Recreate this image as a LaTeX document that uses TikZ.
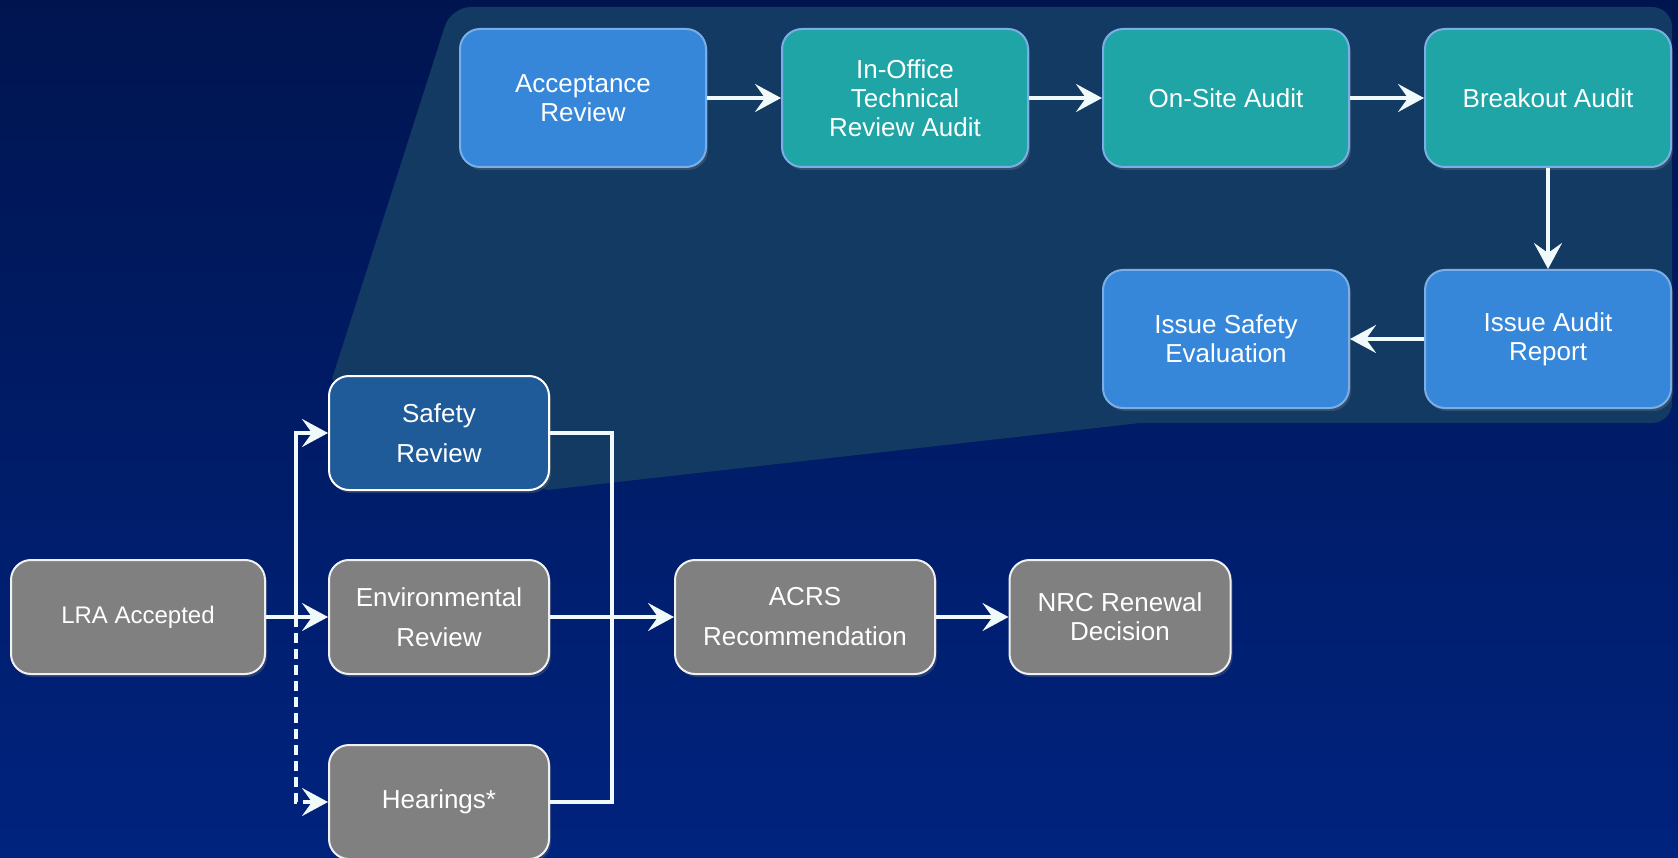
\documentclass[tikz,border=0pt]{standalone}
\usepackage{fontspec}
\setmainfont{Liberation Sans}
\usetikzlibrary{arrows.meta,shadows}
\definecolor{bgtop}{HTML}{001550}
\definecolor{bgbottom}{HTML}{00237E}
\definecolor{panelcol}{HTML}{133A63}
\definecolor{stepblue}{HTML}{3687D9}
\definecolor{stepteal}{HTML}{1FA5A5}
\definecolor{stepedge}{HTML}{7AAEE6}
\definecolor{safetyblue}{HTML}{1F5A99}
\definecolor{stepgray}{HTML}{808080}
\definecolor{linkcol}{HTML}{F0FAFA}
\begin{document}
\begin{tikzpicture}
	[x=1pt,y=-1pt,
		box/.style={rectangle,rounded corners=20pt,line width=2pt,align=center,text=white,
			drop shadow={shadow xshift=2pt,shadow yshift=-3pt,opacity=0.3}},
		topbox/.style={box,draw=stepedge,minimum width=246pt,minimum height=138pt,
			font=\fontsize{26}{29}\selectfont},
		lowbox/.style={box,draw=white!94!black,fill=stepgray,minimum height=114pt,
			font=\fontsize{26}{40}\selectfont},
		link/.style={linkcol,line width=3.5pt},
		flow/.style={link,-{Stealth[length=26pt,width=28pt,inset=10pt]}}]
	\useasboundingbox (0,0) rectangle (1678,858);
	\fill[top color=bgtop,bottom color=bgbottom] (0,0) rectangle (1678,858);
	\fill[panelcol] (547,490) -- (332,379) [rounded corners=20pt] -- (451,7) -- (1672,7)
		-- (1672,423) [sharp corners] -- (1140,423) -- cycle;
	% audit steps
	\node[topbox,fill=stepblue] (acc) at (583,98) {Acceptance\\Review};
	\node[topbox,fill=stepteal] (off) at (905,98) {In-Office\\Technical\\Review Audit};
	\node[topbox,fill=stepteal] (site) at (1226,98) {On-Site Audit};
	\node[topbox,fill=stepteal] (brk) at (1548,98) {Breakout Audit};
	\node[topbox,fill=stepblue] (iar) at (1548,339) {Issue Audit\\Report};
	\node[topbox,fill=stepblue] (ise) at (1226,339) {Issue Safety\\Evaluation};
	% renewal process
	\node[lowbox,minimum width=254pt,font=\fontsize{24}{29}\selectfont] (lra) at (138,617) {LRA Accepted};
	\node[lowbox,fill=safetyblue,draw=white,minimum width=220pt] (safety) at (439,433) {Safety\\Review};
	\node[lowbox,minimum width=220pt] (env) at (439,617) {Environmental\\Review};
	\node[lowbox,minimum width=220pt] (hear) at (439,802) {Hearings*};
	\node[lowbox,minimum width=260pt] (acrs) at (805,617) {ACRS\\Recommendation};
	\node[lowbox,minimum width=221pt,font=\fontsize{26}{29}\selectfont] (nrc) at (1120,617) {NRC Renewal\\Decision};
	\coordinate (split) at (296,617);
	\coordinate (join) at (612,617);
	\draw[flow] (acc) -- (off);
	\draw[flow] (off) -- (site);
	\draw[flow] (site) -- (brk);
	\draw[flow] (brk) -- (iar);
	\draw[flow] (iar) -- (ise);
	\draw[flow] (lra) -- (env);
	\draw[flow] (split) |- (safety);
	\draw[flow,dash pattern=on 10pt off 6pt] (split) |- (hear);
	\draw[link] (safety) -| (join);
	\draw[link] (hear) -| (join);
	\draw[flow] (env) -- (acrs);
	\draw[flow] (acrs) -- (nrc);
\end{tikzpicture}
\end{document}
